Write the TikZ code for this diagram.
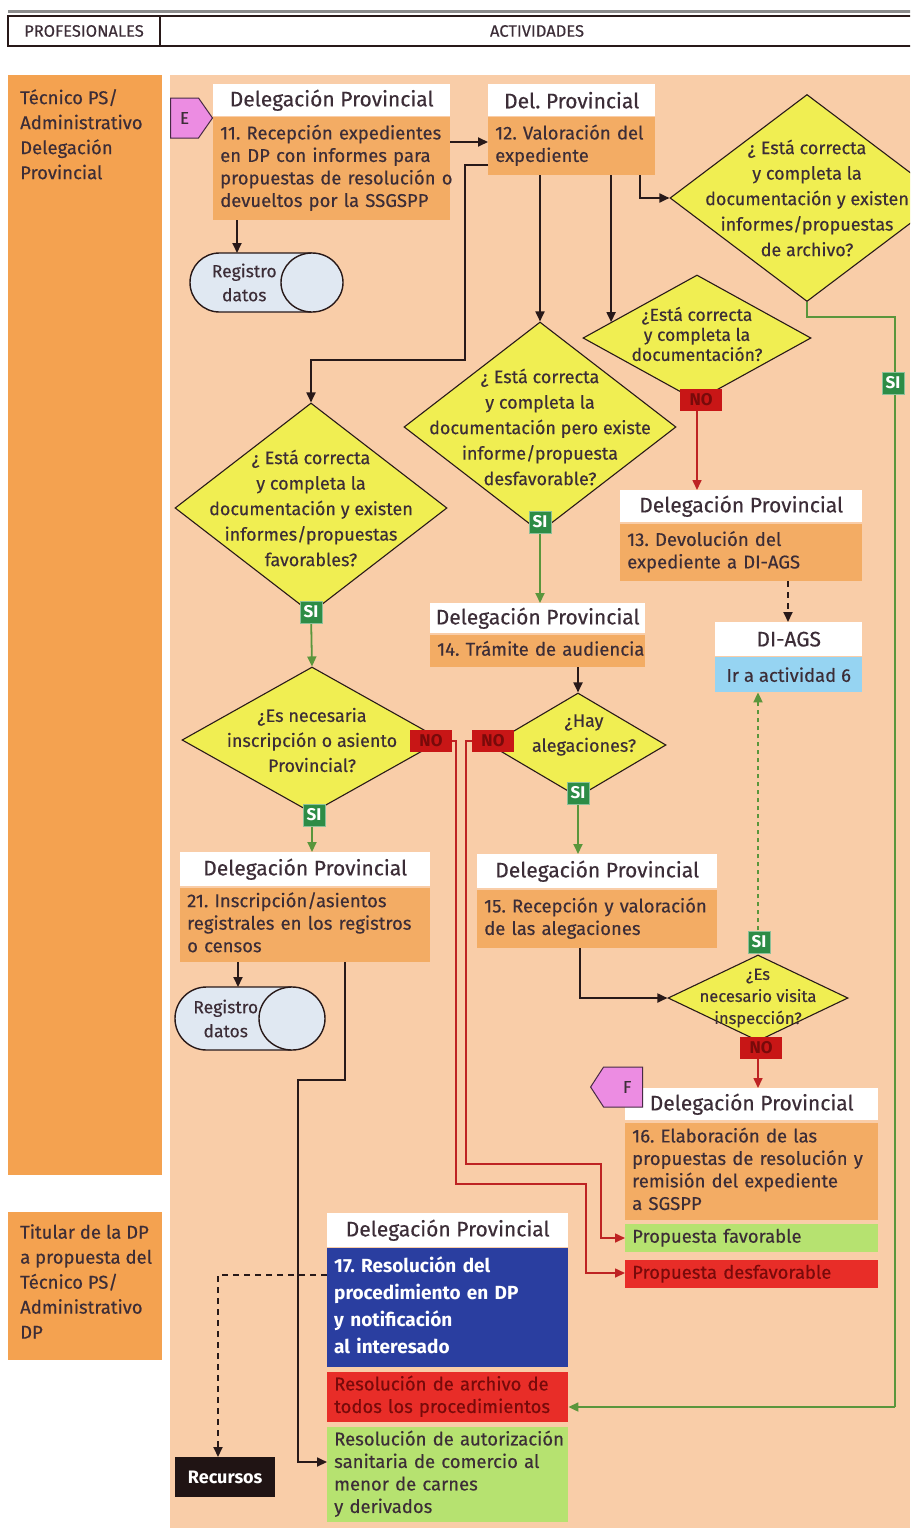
\documentclass[tikz,border=0pt]{standalone}
\usepackage{fontspec}
\setmainfont{Fira Sans}[UprightFeatures={FakeBold=0.35}]
\usetikzlibrary{shapes.geometric,shapes.symbols,calc,arrows.meta}
\frenchspacing

\definecolor{peach}{RGB}{249,205,168}
\definecolor{lane}{RGB}{244,162,80}
\definecolor{actc}{RGB}{243,172,100}
\definecolor{dyel}{RGB}{240,238,82}
\definecolor{txt}{RGB}{60,45,55}
\definecolor{gline}{RGB}{90,150,60}
\definecolor{rline}{RGB}{190,35,35}
\definecolor{sig}{RGB}{45,140,70}
\definecolor{nor}{RGB}{200,22,22}
\definecolor{nort}{RGB}{120,10,10}
\definecolor{pinkE}{RGB}{236,140,226}
\definecolor{skyb}{RGB}{150,212,242}
\definecolor{royal}{RGB}{42,62,160}
\definecolor{favg}{RGB}{182,226,112}
\definecolor{desr}{RGB}{232,45,40}
\definecolor{regf}{RGB}{224,232,242}
\definecolor{blkline}{RGB}{40,25,25}

% left-aligned block of lines that never re-wraps
\newcommand\linesleft[1]{\begin{tabular}{@{}l@{}}#1\end{tabular}}

% drum-like "Registro datos" storage symbol: name, left, top, right, bottom
\newcommand\regdatos[5]{%
  \pgfmathsetmacro\rr{(#5-#3)/2}%
  \pgfmathsetmacro\ex{#4-\rr-1.5}%
  \pgfmathsetmacro\my{(#3+#5)/2}%
  \filldraw[fill=regf, draw=blkline, line width=1.4pt, rounded corners=\rr pt]
    (\ex,#3) -- (#2,#3) -- (#2,#5) -- (\ex,#5);
  \filldraw[fill=regf, draw=blkline, line width=1.4pt]
    (\ex,\my) ellipse [x radius=\rr pt+1.5pt, y radius=\rr pt];
  \node[inner sep=0pt, minimum width={(#4-#2)*1pt}, minimum height={(#5-#3)*1pt},
        anchor=north west] (#1) at (#2,#3) {};
  \node[font=\fontsize{17.5}{24}\selectfont, align=center] at ({(#2+\ex-\rr)/2+8},\my) {Registro\\datos};
}

\begin{document}
\begin{tikzpicture}[x=1pt,y=-1pt,
  every node/.style={text=txt},
  hdr/.style={fill=white, font=\fontsize{21}{24}\selectfont, inner sep=0pt, anchor=north west},
  act/.style={fill=actc, font=\fontsize{18.5}{22.5}\selectfont, inner xsep=7pt, inner ysep=0pt,
              anchor=north west, align=left},
  dia/.style={diamond, fill=dyel, draw=blkline, line width=1.1pt, inner sep=0pt},
  dtxt/.style={align=center, font=\fontsize{18}{25.5}\selectfont, inner sep=0pt},
  si/.style={fill=sig, draw=sig!55!white, line width=0.8pt, text=white,
             font=\bfseries\fontsize{17}{17}\selectfont, inner sep=1pt,
             minimum width=22pt, minimum height=22pt},
  no/.style={fill=nor, text=nort, font=\bfseries\fontsize{17}{17}\selectfont, inner sep=1pt,
             minimum width=42pt, minimum height=22pt},
  tip/.style={-{Triangle[length=10pt,width=9pt]}},
  blk/.style={line width=1.8pt, draw=blkline, tip},
  blkdash/.style={blk, dash pattern=on 6pt off 5pt},
  grn/.style={line width=1.8pt, draw=gline, tip},
  grndash/.style={grn, dash pattern=on 4pt off 4pt},
  red/.style={line width=1.6pt, draw=rline, tip},
  lanetxt/.style={anchor=north west, align=left, font=\fontsize{18.5}{25}\selectfont, inner sep=0pt}
]
\clip (0,0) rectangle (910,1528);
\fill[white] (0,0) rectangle (910,1528);

% ---- table header
\draw[line width=3pt, black!45] (8,12) -- (915,12);
\draw[line width=1.4pt, blkline] (8,16) rectangle (915,46);
\draw[line width=1.4pt, blkline] (160,16) -- (160,46);
\node[font=\fontsize{16.5}{18}\selectfont] (hprof) at (84,31) {PROFESIONALES};
\node[font=\fontsize{16.5}{18}\selectfont] (hact) at (537,31) {ACTIVIDADES};

% ---- lanes
\fill[lane] (8,75) rectangle (162,1175);
\fill[lane] (8,1212) rectangle (162,1360);
\fill[peach] (170,75) rectangle (910,1528);
\node[lanetxt] (lane1) at (20,89) {Técnico PS/\\Administrativo\\Delegación\\Provincial};
\node[lanetxt] (lane2) at (20,1224) {Titular de la DP\\a propuesta del\\Técnico PS/\\Administrativo\\DP};

% ---- activity 11 and 12
\node[hdr, minimum width=237pt, minimum height=32pt] (h11) at (213,84) {Delegación Provincial};
\node[act, text width=223pt, minimum height=103pt] (a11) at (213,117)
  {\linesleft{11. Recepción expedientes\\en DP con informes para\\propuestas de resolución o\\devueltos por la SSGSPP}};
\node[signal, signal to=east, signal pointer angle=110, fill=pinkE, draw=black!70!pinkE,
      line width=1pt, minimum width=42pt, minimum height=40pt, inner sep=0pt, anchor=west,
      font=\fontsize{17}{17}\selectfont] (E) at (170,118) {E\hspace{8pt}};
\node[hdr, minimum width=167pt, minimum height=32pt] (h12) at (488,84) {Del. Provincial};
\node[act, text width=153pt, minimum height=58pt] (a12) at (488,117) {\linesleft{12. Valoración del\\expediente}};

\regdatos{reg1}{190}{253}{343}{312}

% ---- decisions
\node[dia, minimum width=274pt, minimum height=207pt] (darch) at (807,198) {};
\node[dtxt] at (darch) {¿ Está correcta\\y completa la\\documentación y existen\\informes/propuestas\\de archivo?};
\node[dia, minimum width=228pt, minimum height=126pt] (ddoc) at (697,338) {};
\node[dtxt, font=\fontsize{17.5}{20}\selectfont] at ($(ddoc)+(0,-4)$) {¿Está correcta\\y completa la\\documentación?};
\node[dia, minimum width=272pt, minimum height=210pt] (ddesf) at (540,427) {};
\node[dtxt] at (ddesf) {¿ Está correcta\\y completa la\\documentación pero existe\\informe/propuesta\\desfavorable?};
\node[dia, minimum width=272pt, minimum height=210pt] (dfav) at (311,508) {};
\node[dtxt] at (dfav) {¿ Está correcta\\y completa la\\documentación y existen\\informes/propuestas\\favorables?};
\node[dia, minimum width=260pt, minimum height=146pt] (dinsc) at (312,740) {};
\node[dtxt, font=\fontsize{18}{25}\selectfont] at (dinsc) {¿Es necesaria\\inscripción o asiento\\Provincial?};
\node[dia, minimum width=176pt, minimum height=104pt] (dhay) at (578,745) {};
\node[dtxt, font=\fontsize{18}{25}\selectfont] at ($(dhay)+(6,-10)$) {¿Hay\\alegaciones?};
\node[dia, minimum width=180pt, minimum height=86pt] (dvis) at (758,998) {};
\node[dtxt, font=\fontsize{16.5}{22}\selectfont] at (dvis) {¿Es\\necesario visita\\inspección?};

% ---- activity boxes
\node[hdr, minimum width=242pt, minimum height=32pt] (h13) at (620,490) {Delegación Provincial};
\node[act, text width=228pt, minimum height=57pt] (a13) at (620,524) {\linesleft{13. Devolución del\\expediente a DI-AGS}};
\node[hdr, minimum width=147pt, minimum height=34pt] (hdi) at (715,622) {DI-AGS};
\node[fill=skyb, font=\fontsize{18.5}{20}\selectfont, minimum width=147pt, minimum height=35pt,
      inner sep=0pt, anchor=north west] (adi) at (715,657) {Ir a actividad 6};
\node[hdr, minimum width=215pt, minimum height=30pt] (h14) at (430,603) {Delegación Provincial};
\node[act, text width=201pt, minimum height=32pt] (a14) at (430,635) {\linesleft{14. Trámite de audiencia}};
\node[hdr, minimum width=240pt, minimum height=34pt] (h15) at (477,854) {Delegación Provincial};
\node[act, text width=226pt, minimum height=58pt] (a15) at (477,890) {\linesleft{15. Recepción y valoración\\de las alegaciones}};
\node[hdr, minimum width=250pt, minimum height=34pt] (h21) at (180,852) {Delegación Provincial};
\node[act, text width=236pt, minimum height=74pt] (a21) at (180,888)
  {\linesleft{21. Inscripción/asientos\\registrales en los registros\\o censos}};
\regdatos{reg2}{175}{987}{325}{1050}

\node[hdr, minimum width=253pt, minimum height=32pt] (h16) at (625,1088) {Delegación Provincial};
\node[signal, signal to=west, signal pointer angle=114, fill=pinkE, draw=black!70!pinkE,
      line width=1pt, minimum width=52pt, minimum height=40pt, inner sep=0pt, anchor=west,
      font=\fontsize{17}{17}\selectfont] (F) at (590,1087) {\hspace{8pt}F};
\node[act, text width=239pt, minimum height=97pt] (a16) at (625,1123)
  {\linesleft{16. Elaboración de las\\propuestas de resolución y\\remisión del expediente\\a SGSPP}};
\node[act, fill=favg, text width=239pt, minimum height=28pt] (pfav) at (625,1224) {\linesleft{Propuesta favorable}};
\node[act, fill=desr, text=nort, text width=239pt, minimum height=28pt] (pdes) at (625,1260) {\linesleft{Propuesta desfavorable}};

\node[hdr, minimum width=241pt, minimum height=34pt] (h17) at (327,1213) {Delegación Provincial};
\node[act, fill=royal, text=white, font=\bfseries\fontsize{19}{27}\selectfont,
      text width=227pt, minimum height=119pt] (a17) at (327,1248)
  {\linesleft{17. Resolución del\\procedimiento en DP\\y notificación\\al interesado}};
\node[act, fill=desr, text=nort, text width=227pt, minimum height=50pt] (rarch) at (327,1372)
  {\linesleft{Resolución de archivo de\\todos los procedimientos}};
\node[act, fill=favg, text width=227pt, minimum height=95pt] (raut) at (327,1427)
  {\linesleft{Resolución de autorización\\sanitaria de comercio al\\menor de carnes\\y derivados}};
\node[fill=blkline!80!black, text=white, font=\bfseries\fontsize{18}{20}\selectfont,
      minimum width=100pt, minimum height=40pt, inner sep=0pt, anchor=north west] (recur) at (175,1457) {Recursos};

% ---- connectors
\draw[blk] (a11.east |- 0,142) -- (a12.west |- 0,142);
\draw[blk] (a11.south -| 237,0) -- (reg1.north -| 237,0);
\draw[blk] (a12.west |- 0,165) -- (465,165) -- (465,360) -- (dfav.north |- 0,360) -- (dfav.north);
\draw[blk] (a12.south -| ddesf.north) -- (ddesf.north);
\coordinate (ddocin) at ($(ddoc.west)!0.25!(ddoc.north)$);
\draw[blk] (a12.south -| ddocin) -- (ddocin);
\draw[blk] (a12.south -| 640,0) -- (640,198) -- (darch.west);

\draw[line width=1.8pt, draw=gline] (darch.south) -- (807,317) -- (895,317) -- (895,1407);
\draw[grn] (895,1407) -- (rarch.east |- 0,1407);
\node[si] (si1) at (893,383) {SI};

\draw[red] (ddoc.south) -- (h13.north -| ddoc.south);
\node[no] (no1) at (701,400) {NO};
\draw[blkdash] (a13.south -| 788,0) -- (hdi.north -| 788,0);

\draw[grn] (ddesf.south) -- (h14.north -| ddesf.south);
\node[si] (si2) at (540,522) {SI};
\draw[grn] (dfav.south) -- (dinsc.north);
\node[si] (si3) at (311,612) {SI};
\draw[grn] (dinsc.south) -- (h21.north -| dinsc.south);
\node[si] (si4) at (314,815) {SI};

\draw[blk] (a14.south -| dhay.north) -- (dhay.north);
\draw[grn] (dhay.south) -- (h15.north -| dhay.south);
\node[si] (si5) at (578,793) {SI};

% NO branches towards the proposals
\draw[red] (452,741) -- (456,741) -- (456,1184) -- (586,1184) -- (586,1273) -- (pdes.west |- 0,1273);
\draw[red] (472,741) -- (466,741) -- (466,1164) -- (601,1164) -- (601,1238) -- (pfav.west |- 0,1238);
\node[no] (no2) at (431,741) {NO};
\node[no] (no3) at (493,741) {NO};

\draw[blk] (a15.south -| 580,0) -- (580,998) -- (dvis.west);
\draw[grndash] (dvis.north) -- (adi.south -| dvis.north);
\node[si] (si6) at (759,942) {SI};
\draw[red] (dvis.south) -- (h16.north -| dvis.south);
\node[no] (no4) at (761,1048) {NO};

\draw[blk] (a21.south -| 238,0) -- (reg2.north -| 238,0);
\draw[blk] (a21.south -| 345,0) -- (345,1080) -- (298,1080) -- (298,1462) -- (raut.west |- 0,1462);
\draw[blkdash] (a17.west |- 0,1275) -- (218,1275) -- (recur.north -| 218,0);
\end{tikzpicture}
\end{document}
